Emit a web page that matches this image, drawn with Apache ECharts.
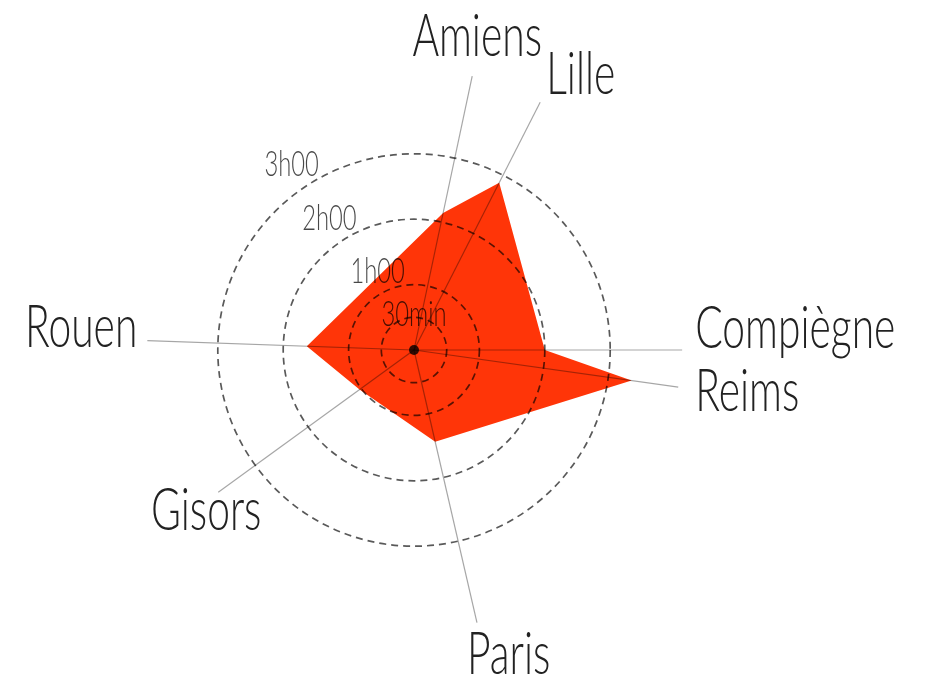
<!DOCTYPE html>
<html>
<head>
<meta charset="utf-8">
<script src="https://cdn.jsdelivr.net/npm/echarts@6/dist/echarts.min.js"></script>
<style>
  html, body { margin: 0; background: #fff; }
  #main { width: 926px; height: 683px; }
</style>
</head>
<body>
<div id="main"></div>
<script>
// temps de trajet au départ de Beauvais : cap (degrés, nord = 0) et durée (heures)
var cities = ['Amiens', 'Lille', 'Compiègne', 'Reims', 'Paris', 'Gisors', 'Rouen'];
var bearings = [12, 27, 90, 98, 167, 234, 272];
var hours = [2.14, 2.87, 2.0, 3.36, 1.44, 1.03, 1.64];
// cercles de repère
var ringValues = [0.5, 1, 2, 3];
var ringLabels = ['30min', '1h00', '2h00', '3h00'];

// mise en page
var PX_PER_HOUR = 65.4;
var MAX_HOURS = 4.5;
var spokeReach = [4.28, 4.25, 4.1, 4.08, 4.28, 3.7, 4.08];
var cityLabelLayout = [
    {dx: 5, dy: -40, align: 'center'},
    {dx: 6, dy: -28, align: 'left'},
    {dx: 13, dy: -21, align: 'left'},
    {dx: 17, dy: 5, align: 'left'},
    {dx: -10, dy: 32, align: 'left'},
    {dx: -12, dy: 18, align: 'center'},
    {dx: -10, dy: -13, align: 'right'}
];
var ringLabelLayout = [
    {bearing: 0, align: 'center', verticalAlign: 'middle', dy: -3},
    {bearing: 352, align: 'right', verticalAlign: 'bottom', dy: 4},
    {bearing: 334, align: 'right', verticalAlign: 'bottom', dy: 4},
    {bearing: 331, align: 'right', verticalAlign: 'bottom', dy: 4}
];
var FONT = "Lato, 'Open Sans', sans-serif";

// une couleur par cercle de la grille : seuls les repères sont visibles
var ringColors = [];
for (var v = 0; v <= MAX_HOURS; v += 0.5) {
    ringColors.push(ringValues.indexOf(v) >= 0 ? 'rgba(0,0,0,0.65)' : 'rgba(0,0,0,0)');
}

var chart = echarts.init(document.getElementById('main'));
chart.setOption({
    animation: false,
    polar: {
        center: [414, 350],
        radius: MAX_HOURS * PX_PER_HOUR
    },
    angleAxis: {
        type: 'value',
        min: 0,
        max: 360,
        startAngle: 90,
        clockwise: true,
        axisLine: {show: false},
        axisTick: {show: false},
        axisLabel: {show: false},
        splitLine: {show: false}
    },
    radiusAxis: {
        type: 'value',
        min: 0,
        max: MAX_HOURS,
        interval: 0.5,
        z: 4,
        axisLine: {show: false},
        axisTick: {show: false},
        axisLabel: {show: false},
        splitLine: {
            show: true,
            lineStyle: {color: ringColors, type: [7, 5], width: 1.7}
        }
    },
    series: [
        {
            // surface des temps de trajet
            type: 'custom',
            coordinateSystem: 'polar',
            z: 2,
            data: [[0, 0]],
            renderItem: function (params, api) {
                var pts = hours.map(function (h, i) {
                    return api.coord([h, bearings[i]]);
                });
                return {type: 'polygon', shape: {points: pts}, style: {fill: '#ff3508'}};
            }
        },
        {
            // rayons + noms des villes
            type: 'custom',
            coordinateSystem: 'polar',
            z: 5,
            data: bearings.map(function (b, i) { return [spokeReach[i], b]; }),
            renderItem: function (params, api) {
                var i = params.dataIndex;
                var o = api.coord([0, api.value(1)]);
                var e = api.coord([api.value(0), api.value(1)]);
                var lay = cityLabelLayout[i];
                return {
                    type: 'group',
                    children: [
                        {
                            type: 'line',
                            shape: {x1: o[0], y1: o[1], x2: e[0], y2: e[1]},
                            style: {stroke: 'rgba(0,0,0,0.35)', lineWidth: 1.2}
                        },
                        {
                            type: 'text',
                            x: e[0] + lay.dx,
                            y: e[1] + lay.dy,
                            scaleX: 0.68,
                            style: {
                                text: cities[i], fill: '#222', fontSize: 60,
                                fontFamily: FONT, fontWeight: 300,
                                align: lay.align, verticalAlign: 'middle'
                            }
                        }
                    ]
                };
            }
        },
        {
            // étiquettes des cercles
            type: 'custom',
            coordinateSystem: 'polar',
            z: 6,
            data: ringValues.map(function (r, i) { return [r, ringLabelLayout[i].bearing]; }),
            renderItem: function (params, api) {
                var i = params.dataIndex;
                var p = api.coord([api.value(0), api.value(1)]);
                var lay = ringLabelLayout[i];
                return {
                    type: 'text',
                    x: p[0],
                    y: p[1] + lay.dy,
                    scaleX: 0.68,
                    style: {
                        text: ringLabels[i], fill: 'rgba(0,0,0,0.72)', fontSize: 35,
                        fontFamily: FONT, fontWeight: 300,
                        align: lay.align, verticalAlign: lay.verticalAlign
                    }
                };
            }
        },
        {
            type: 'scatter',
            coordinateSystem: 'polar',
            z: 7,
            symbolSize: 10,
            itemStyle: {color: '#000'},
            data: [[0, 0]]
        }
    ]
});
</script>
</body>
</html>
